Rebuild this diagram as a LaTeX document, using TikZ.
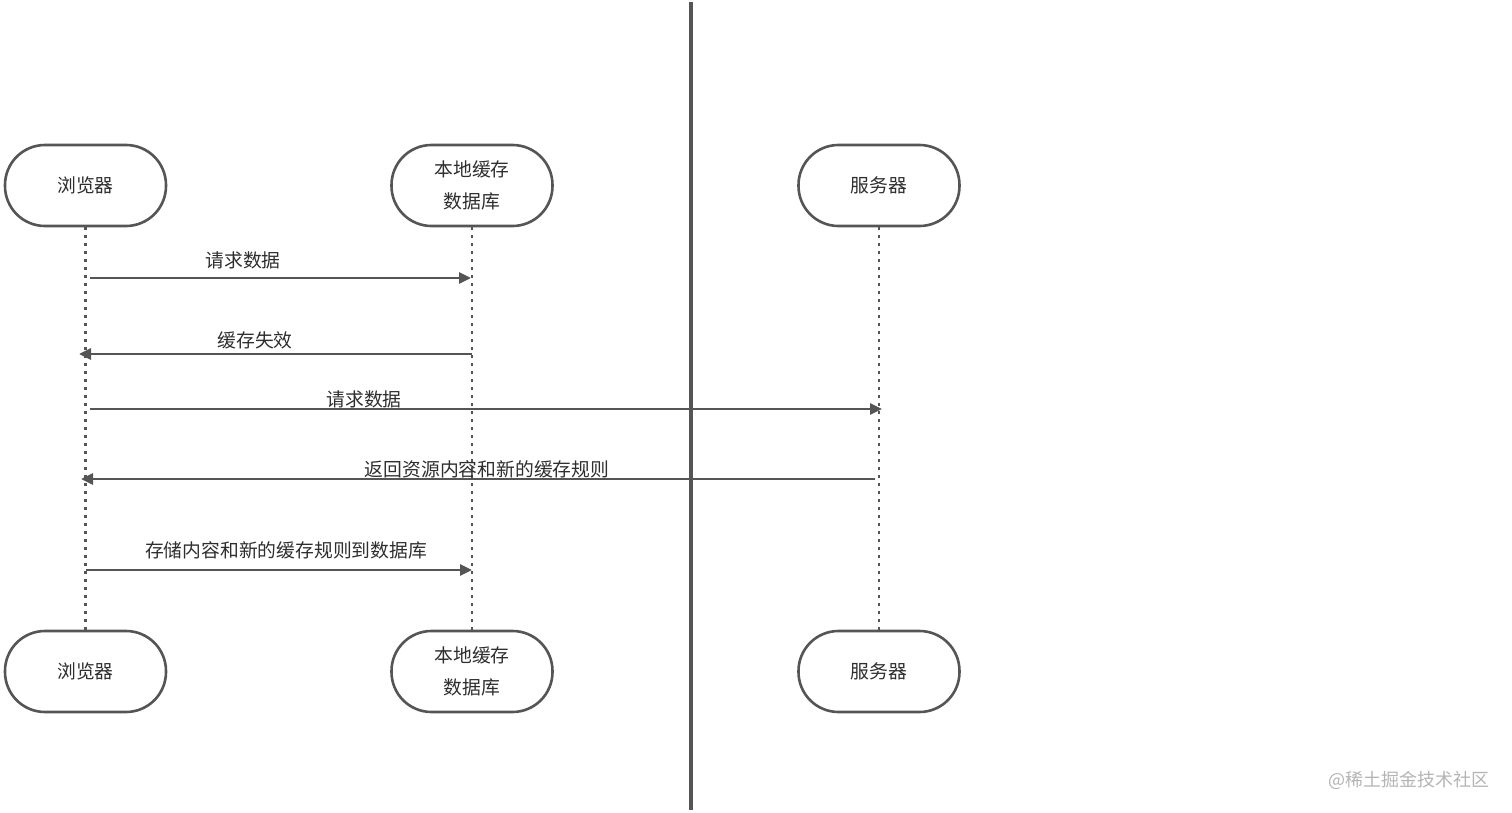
\documentclass[tikz,border=0pt]{standalone}
\usepackage{fontspec}
\newfontfamily\cjk{Noto Sans CJK SC}
\usetikzlibrary{arrows.meta}
\definecolor{ink}{HTML}{555555}
\definecolor{txt}{HTML}{2E2E2E}
\definecolor{wm}{HTML}{B4B4B4}
\begin{document}
\begin{tikzpicture}[x=0.5pt,y=-0.5pt,
  actor/.style={draw=ink,line width=1.3pt,rounded corners=20pt,minimum width=80.5pt,minimum height=40.5pt,inner sep=0pt,align=center,font=\cjk\fontsize{9.4pt}{16pt}\selectfont,text=txt,fill=white},
  life/.style={draw=ink,line width=1.4pt,dash pattern=on 1.5pt off 2.5pt},
  msg/.style={draw=ink,line width=1.4pt,-{Triangle[length=6pt,width=5.5pt]}},
  lbl/.style={font=\cjk\fontsize{9.4pt}{11pt}\selectfont,text=txt,inner sep=0pt}]
\useasboundingbox (0,0) rectangle (1512,813);
% divider
\coordinate (vt) at (691,2);
\coordinate (vb) at (691,810);
\draw[ink,line width=1.6pt] (vt) -- (vb);
% actors
\node[actor] (b1) at (85.5,185.5) {浏览器};
\node[actor] (d1) at (472,185.5) {本地缓存\\数据库};
\node[actor] (s1) at (879,185.5) {服务器};
\node[actor] (b2) at (85.5,671.5) {浏览器};
\node[actor] (d2) at (472,671.5) {本地缓存\\数据库};
\node[actor] (s2) at (879,671.5) {服务器};
% lifelines
\draw[life] (b1.south) -- (b2.north);
\draw[life] (d1.south) -- (d2.north);
\draw[life] (s1.south) -- (s2.north);
% message coordinates
\coordinate (m1a) at (90,278);  \coordinate (m1b) at (471,278);
\coordinate (m2a) at (472,354); \coordinate (m2b) at (79,354);
\coordinate (m3a) at (90,409);  \coordinate (m3b) at (882,409);
\coordinate (m4a) at (875,479); \coordinate (m4b) at (81,479);
\coordinate (m5a) at (86,570);  \coordinate (m5b) at (472,570);
\draw[msg] (m1a) -- (m1b);
\draw[msg] (m2a) -- (m2b);
\draw[msg] (m3a) -- (m3b);
\draw[msg] (m4a) -- (m4b);
\draw[msg] (m5a) -- (m5b);
% labels
\node[lbl] (l1) at (243,260) {请求数据};
\node[lbl] (l2) at (255,340) {缓存失效};
\node[lbl] (l3) at (364,399) {请求数据};
\node[lbl] (l4) at (487,469) {返回资源内容和新的缓存规则};
\node[lbl] (l5) at (286,550) {存储内容和新的缓存规则到数据库};
% watermark
\node[font=\cjk\fontsize{9pt}{11pt}\selectfont,text=wm,inner sep=0pt] (wmk) at (1409,780) {@稀土掘金技术社区};
\end{tikzpicture}
\end{document}
